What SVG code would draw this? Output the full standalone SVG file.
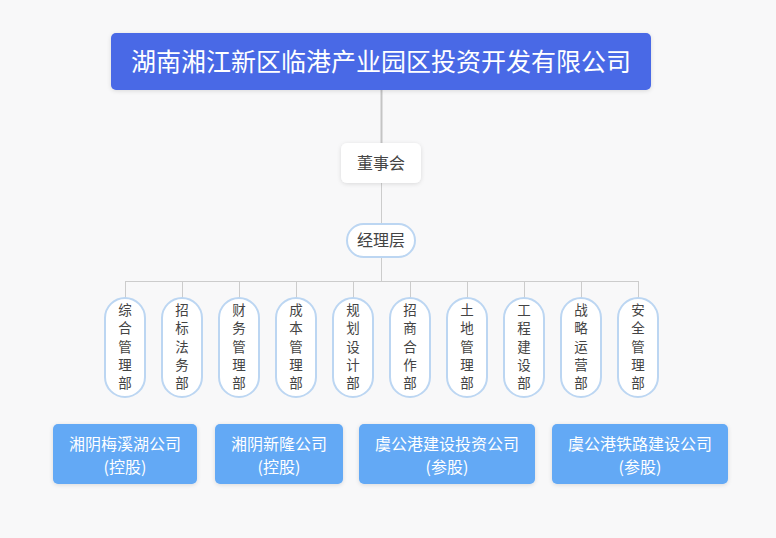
<svg xmlns="http://www.w3.org/2000/svg" width="776" height="538" viewBox="0 0 776 538">
<defs>
<filter id="sh" x="-20%" y="-20%" width="140%" height="150%">
<feDropShadow dx="0" dy="1" stdDeviation="2" flood-color="#000" flood-opacity="0.12"/>
</filter>
<style>
text{font-family:"Noto Sans CJK SC","Noto Sans",sans-serif;text-anchor:middle}
.ln{stroke:#cccccc;stroke-width:1;fill:none}
.pill{fill:#ffffff;stroke:#bcd6f2;stroke-width:2}
.dt{font-size:13.5px;fill:#444}
.sub{fill:#63a9f5;filter:url(#sh)}
.st{font-size:16px;fill:#ffffff}
</style>
</defs>
<rect width="776" height="538" fill="#f8f8f9"/>
<g id="connectors">
<line class="ln" x1="381.5" y1="90" x2="381.5" y2="143" style="stroke-width:2;stroke:#c4c4c4"/>
<line class="ln" x1="381.5" y1="183" x2="381.5" y2="223"/>
<line class="ln" x1="381.5" y1="257" x2="381.5" y2="281"/>
<line class="ln" x1="125" y1="281.5" x2="638" y2="281.5"/>
<path class="ln" d="M125.5 281V298M182.5 281V298M239.5 281V298M296.5 281V298M353.5 281V298M410.5 281V298M467.5 281V298M524.5 281V298M581.5 281V298M638.5 281V298"/>
</g>
<g id="root">
<rect x="111" y="33" width="540" height="57" rx="5" fill="#4869e6" filter="url(#sh)"/>
<text x="381" y="70.5" style="font-size:25px;fill:#fff">湖南湘江新区临港产业园区投资开发有限公司</text>
</g>
<g id="board">
<rect x="341" y="143" width="80" height="40" rx="6" fill="#fff" filter="url(#sh)"/>
<text x="381" y="169" style="font-size:16px;fill:#444">董事会</text>
</g>
<g id="manager">
<rect class="pill" x="347" y="224" width="68" height="33" rx="16.5"/>
<text x="381" y="246" style="font-size:16px;fill:#444">经理层</text>
</g>
<g id="d1"><rect class="pill" x="105" y="298" width="40" height="99" rx="20"/><text class="dt" x="125"><tspan x="125" y="315">综</tspan><tspan x="125" y="333.3">合</tspan><tspan x="125" y="351.6">管</tspan><tspan x="125" y="369.9">理</tspan><tspan x="125" y="388.2">部</tspan></text></g>
<g id="d2"><rect class="pill" x="162" y="298" width="40" height="99" rx="20"/><text class="dt" x="182"><tspan x="182" y="315">招</tspan><tspan x="182" y="333.3">标</tspan><tspan x="182" y="351.6">法</tspan><tspan x="182" y="369.9">务</tspan><tspan x="182" y="388.2">部</tspan></text></g>
<g id="d3"><rect class="pill" x="219" y="298" width="40" height="99" rx="20"/><text class="dt" x="239"><tspan x="239" y="315">财</tspan><tspan x="239" y="333.3">务</tspan><tspan x="239" y="351.6">管</tspan><tspan x="239" y="369.9">理</tspan><tspan x="239" y="388.2">部</tspan></text></g>
<g id="d4"><rect class="pill" x="276" y="298" width="40" height="99" rx="20"/><text class="dt" x="296"><tspan x="296" y="315">成</tspan><tspan x="296" y="333.3">本</tspan><tspan x="296" y="351.6">管</tspan><tspan x="296" y="369.9">理</tspan><tspan x="296" y="388.2">部</tspan></text></g>
<g id="d5"><rect class="pill" x="333" y="298" width="40" height="99" rx="20"/><text class="dt" x="353"><tspan x="353" y="315">规</tspan><tspan x="353" y="333.3">划</tspan><tspan x="353" y="351.6">设</tspan><tspan x="353" y="369.9">计</tspan><tspan x="353" y="388.2">部</tspan></text></g>
<g id="d6"><rect class="pill" x="390" y="298" width="40" height="99" rx="20"/><text class="dt" x="410"><tspan x="410" y="315">招</tspan><tspan x="410" y="333.3">商</tspan><tspan x="410" y="351.6">合</tspan><tspan x="410" y="369.9">作</tspan><tspan x="410" y="388.2">部</tspan></text></g>
<g id="d7"><rect class="pill" x="447" y="298" width="40" height="99" rx="20"/><text class="dt" x="467"><tspan x="467" y="315">土</tspan><tspan x="467" y="333.3">地</tspan><tspan x="467" y="351.6">管</tspan><tspan x="467" y="369.9">理</tspan><tspan x="467" y="388.2">部</tspan></text></g>
<g id="d8"><rect class="pill" x="504" y="298" width="40" height="99" rx="20"/><text class="dt" x="524"><tspan x="524" y="315">工</tspan><tspan x="524" y="333.3">程</tspan><tspan x="524" y="351.6">建</tspan><tspan x="524" y="369.9">设</tspan><tspan x="524" y="388.2">部</tspan></text></g>
<g id="d9"><rect class="pill" x="561" y="298" width="40" height="99" rx="20"/><text class="dt" x="581"><tspan x="581" y="315">战</tspan><tspan x="581" y="333.3">略</tspan><tspan x="581" y="351.6">运</tspan><tspan x="581" y="369.9">营</tspan><tspan x="581" y="388.2">部</tspan></text></g>
<g id="d10"><rect class="pill" x="618" y="298" width="40" height="99" rx="20"/><text class="dt" x="638"><tspan x="638" y="315">安</tspan><tspan x="638" y="333.3">全</tspan><tspan x="638" y="351.6">管</tspan><tspan x="638" y="369.9">理</tspan><tspan x="638" y="388.2">部</tspan></text></g>
<g id="s1"><rect class="sub" x="53" y="424" width="144" height="60" rx="5"/><text class="st"><tspan x="125" y="450">湘阴梅溪湖公司</tspan><tspan x="125" y="472.5">(控股)</tspan></text></g>
<g id="s2"><rect class="sub" x="215" y="424" width="128" height="60" rx="5"/><text class="st"><tspan x="279" y="450">湘阴新隆公司</tspan><tspan x="279" y="472.5">(控股)</tspan></text></g>
<g id="s3"><rect class="sub" x="359" y="424" width="176" height="60" rx="5"/><text class="st"><tspan x="447" y="450">虞公港建设投资公司</tspan><tspan x="447" y="472.5">(参股)</tspan></text></g>
<g id="s4"><rect class="sub" x="552" y="424" width="176" height="60" rx="5"/><text class="st"><tspan x="640" y="450">虞公港铁路建设公司</tspan><tspan x="640" y="472.5">(参股)</tspan></text></g>
</svg>
